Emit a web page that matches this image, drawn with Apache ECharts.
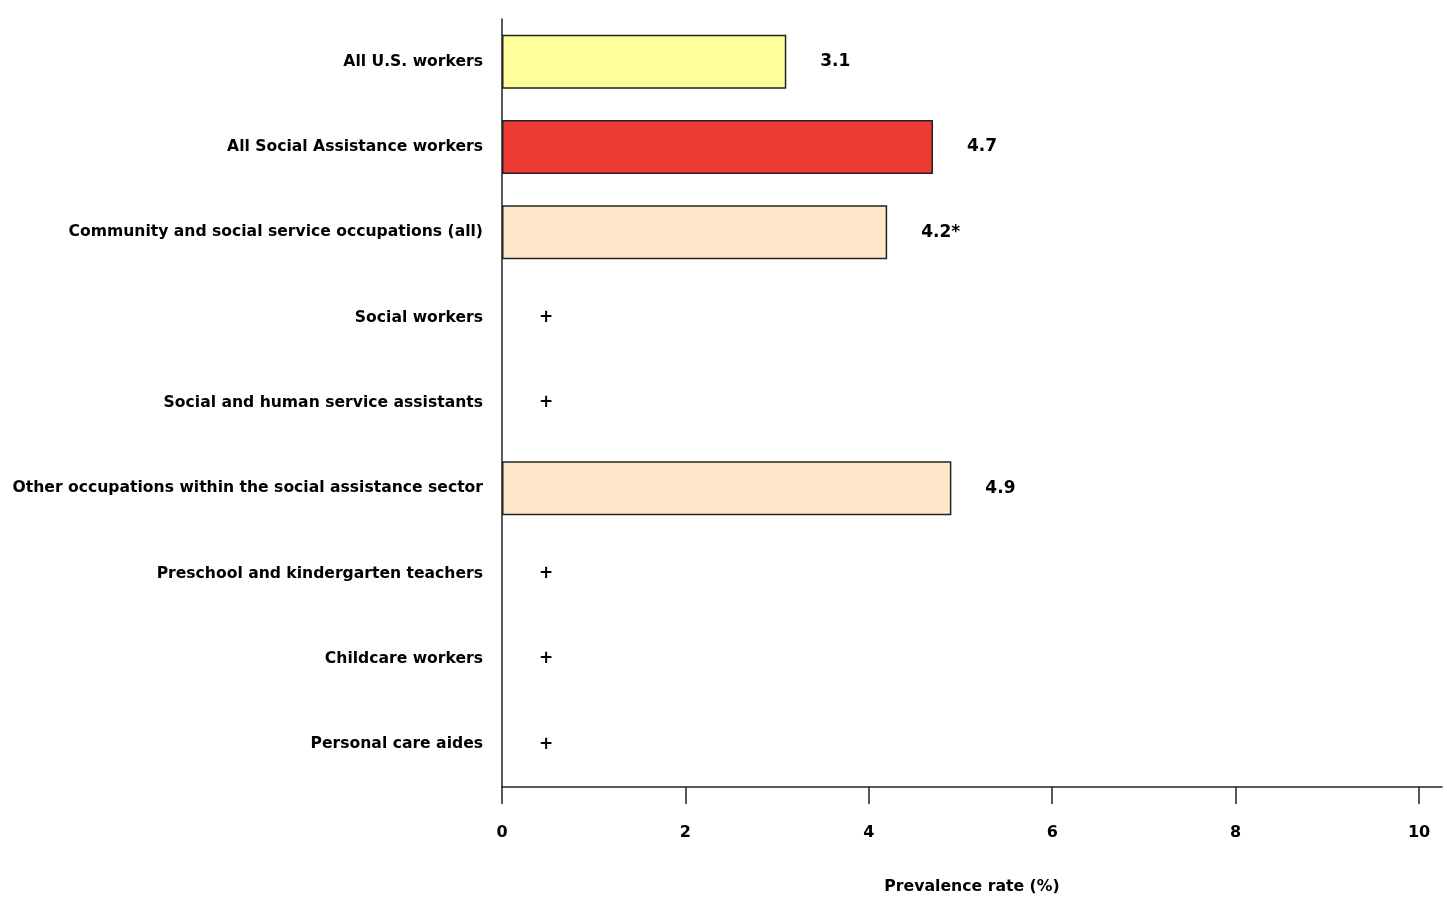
<!DOCTYPE html>
<html><head><meta charset="utf-8">
<script src="https://cdn.jsdelivr.net/npm/echarts@6/dist/echarts.min.js"></script>
<style>html,body{margin:0;padding:0;background:#fff}#c{width:1447px;height:900px}</style>
</head><body><div id="c"></div>
<script>
const categories = [
  'All U.S. workers',
  'All Social Assistance workers',
  'Community and social service occupations (all)',
  'Social workers',
  'Social and human service assistants',
  'Other occupations within the social assistance sector',
  'Preschool and kindergarten teachers',
  'Childcare workers',
  'Personal care aides'
];
const values = [3.1, 4.7, 4.2, null, null, 4.9, null, null, null];
const valueLabels = ['3.1', '4.7', '4.2*', '+', '+', '4.9', '+', '+', '+'];
const barColors = ['#FFFF99', '#EE3B33', '#FFE6C8', '#FFE6C8', '#FFE6C8', '#FFE6C8', '#FFE6C8', '#FFE6C8', '#FFE6C8'];
const xTicks = [0, 2, 4, 6, 8, 10];

const FONT = '"DejaVu Sans", Verdana, sans-serif';
const data = values.map((v, i) => v == null
  ? { value: 0, itemStyle: { color: 'rgba(0,0,0,0)', borderWidth: 0 }, label: { distance: 37 } }
  : { value: v, itemStyle: { color: barColors[i] } });

const chart = echarts.init(document.getElementById('c'));
chart.setOption({
  animation: false,
  grid: { left: 502, right: 5, top: 19, bottom: 111, containLabel: false },
  xAxis: {
    type: 'value', min: 0, max: 10.25,
    name: 'Prevalence rate (%)', nameLocation: 'middle', nameGap: 92,
    nameTextStyle: { fontFamily: FONT, fontWeight: 'bold', fontSize: 15.7, color: '#000' },
    axisLine: { show: true, lineStyle: { color: '#222', width: 1.5 } },
    axisTick: { show: true, length: 17, customValues: xTicks, lineStyle: { color: '#222', width: 1.5 } },
    axisLabel: { customValues: xTicks, margin: 38, fontFamily: FONT, fontWeight: 'bold', fontSize: 16, color: '#000' },
    splitLine: { show: false }
  },
  yAxis: {
    type: 'category', inverse: true, data: categories,
    axisLine: { show: true, lineStyle: { color: '#222', width: 1.5 } },
    axisTick: { show: false },
    axisLabel: { margin: 19, fontFamily: FONT, fontWeight: 'bold', fontSize: 15.6, color: '#000' }
  },
  series: [{
    type: 'bar', data: data, barWidth: 54,
    itemStyle: { borderColor: '#222', borderWidth: 1.5 },
    label: {
      show: true, position: 'right', distance: 34,
      formatter: p => valueLabels[p.dataIndex],
      fontFamily: FONT, fontWeight: 'bold', fontSize: 17, color: '#000'
    }
  }]
});
</script></body></html>
